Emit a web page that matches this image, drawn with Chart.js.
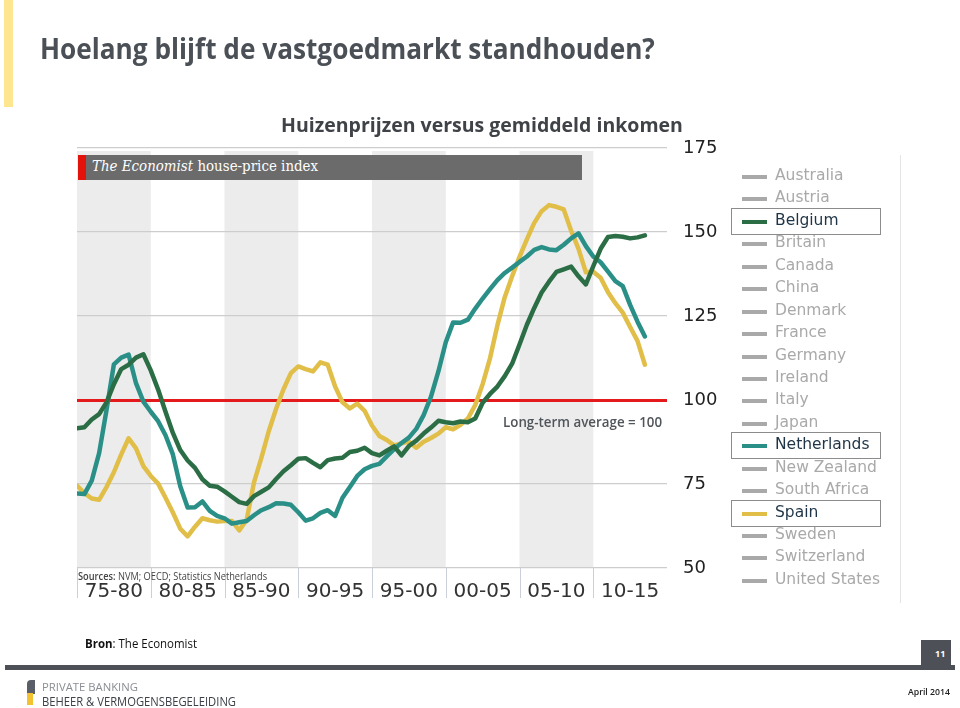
<!DOCTYPE html>
<html>
<head>
<meta charset="utf-8">
<script src="https://cdn.jsdelivr.net/npm/chart.js@4.4.1/dist/chart.umd.min.js"></script>
<style>
  body { margin: 0; width: 960px; height: 708px; position: relative; overflow: hidden; background: #fff; font-family: "Open Sans", sans-serif; }
  canvas { position: absolute; left: 0; top: 0; }
  .abs { position: absolute; white-space: nowrap; transform-origin: left top; }
  #accent { left: 4px; top: 0; width: 9px; height: 107px; background: #fde68f; }
  #slideTitle { left: 40px; top: 29px; font-size: 28px; font-weight: 700; color: #4b5056; }
  #chartTitle { left: 281px; top: 111px; font-size: 20px; font-weight: 700; color: #3f4348; }
  #header { left: 78px; top: 155px; width: 504px; height: 25px; background: #6b6b6b; }
  #header i { font-style: italic; }
  #headerRed { left: 78px; top: 155px; width: 8px; height: 25px; background: #e3120b; }
  #headerText { left: 92px; top: 157px; font-family: "DejaVu Serif", serif; font-size: 15px; color: #fff; }
  #avg { left: 503px; top: 412px; font-size: 14px; font-weight: 600; color: #50555a; }
  #sources { left: 78px; top: 569px; font-size: 10px; color: #444; }
  #frame { left: 900px; top: 155px; width: 1px; height: 448px; background: #e4e4e4; }
  .leg { position: absolute; left: 742px; height: 20px; }
  .leg span.m { position: absolute; left: 0; top: 9px; width: 25px; height: 4px; background: #aaa; }
  .leg span.t { position: absolute; left: 33px; top: 0; font-family: "DejaVu Sans", sans-serif; font-size: 15.5px; color: #a9a9a9; white-space: nowrap; }
  .box { position: absolute; left: 731px; width: 148px; height: 25px; border: 1px solid #8c8c8c; }
  #bron { left: 85px; top: 634px; font-size: 13px; color: #111; }
  #rule { left: 5px; top: 665px; width: 950px; height: 5px; background: #4d5057; }
  #pageBox { left: 921px; top: 640px; width: 30px; height: 28px; background: #4d5057; }
  #pageNo { left: 935px; top: 647px; font-size: 9px; font-weight: 700; color: #fff; }
  #logoA { left: 27px; top: 680px; width: 8px; height: 14px; background: #5a5e66; border-radius: 4px 0 0 0; }
  #logoB { left: 27px; top: 693px; width: 6px; height: 12px; background: #f2c230; }
  #pb1 { left: 42px; top: 679px; font-size: 11px; color: #8a8d92; }
  #pb2 { left: 42px; top: 693px; font-size: 12px; color: #3c4047; }
  #date { left: 908px; top: 685px; font-size: 9px; color: #222; font-weight: 600; }
</style>
</head>
<body>
<canvas id="chart" width="960" height="708"></canvas>

<div class="abs" id="accent"></div>
<div class="abs" id="slideTitle" data-fit="615">Hoelang blijft de vastgoedmarkt standhouden?</div>
<div class="abs" id="chartTitle" data-fit="402">Huizenprijzen versus gemiddeld inkomen</div>
<div class="abs" id="header"></div>
<div class="abs" id="headerRed"></div>
<div class="abs" id="headerText" data-fit="226"><i>The Economist</i> house-price index</div>
<div class="abs" id="avg" data-fit="159">Long-term average = 100</div>
<div class="abs" id="sources" data-fit="189"><b style="font-weight:600">Sources:</b> NVM; OECD; Statistics Netherlands</div>
<div class="abs" id="frame"></div>
<div id="legend"></div>
<div class="abs" id="bron" data-fit="112"><b>Bron</b>: The Economist</div>
<div class="abs" id="rule"></div>
<div class="abs" id="pageBox"></div>
<div class="abs" id="pageNo">11</div>
<div class="abs" id="logoA"></div>
<div class="abs" id="logoB"></div>
<div class="abs" id="pb1" data-fit="96">PRIVATE BANKING</div>
<div class="abs" id="pb2" data-fit="194">BEHEER &amp; VERMOGENSBEGELEIDING</div>
<div class="abs" id="date" data-fit="42">April 2014</div>

<script>
// half-year steps, 1975 .. 2013.5
const years = [
  1975, 1975.5, 1976, 1976.5, 1977, 1977.5, 1978, 1978.5, 1979, 1979.5,
  1980, 1980.5, 1981, 1981.5, 1982, 1982.5, 1983, 1983.5, 1984, 1984.5,
  1985, 1985.5, 1986, 1986.5, 1987, 1987.5, 1988, 1988.5, 1989, 1989.5,
  1990, 1990.5, 1991, 1991.5, 1992, 1992.5, 1993, 1993.5, 1994, 1994.5,
  1995, 1995.5, 1996, 1996.5, 1997, 1997.5, 1998, 1998.5, 1999, 1999.5,
  2000, 2000.5, 2001, 2001.5, 2002, 2002.5, 2003, 2003.5, 2004, 2004.5,
  2005, 2005.5, 2006, 2006.5, 2007, 2007.5, 2008, 2008.5, 2009, 2009.5,
  2010, 2010.5, 2011, 2011.5, 2012, 2012.5, 2013, 2013.5
];

const belgium = [
  91.6, 91.9, 94.2, 95.8, 99.3, 104.7, 109.2, 110.5, 112.6, 113.6,
  108.8, 103.1, 96.5, 90.2, 85.1, 82.0, 79.8, 76.4, 74.5, 74.2,
  72.8, 71.2, 69.6, 69.1, 71.4, 72.7, 74.0, 76.5, 78.8, 80.6,
  82.5, 82.7, 81.3, 80.0, 82.1, 82.6, 82.8, 84.5, 84.9, 85.8,
  84.2, 83.5, 84.9, 86.2, 83.5, 86.3, 87.9, 90.0, 91.8, 93.8,
  93.4, 93.1, 93.6, 93.4, 94.5, 99.2, 101.8, 104.0, 107.1, 110.8,
  116.5, 122.4, 127.4, 132.0, 135.2, 138.1, 138.9, 139.7, 136.8, 134.4,
  139.8, 145.0, 148.5, 148.8, 148.6, 148.1, 148.4, 149.0
];

const netherlands = [
  72.2, 72.0, 76.0, 84.2, 97.0, 110.6, 112.6, 113.5, 105.0, 99.5,
  96.5, 93.7, 89.5, 83.8, 74.3, 68.0, 68.1, 69.8, 67.0, 65.5,
  64.8, 63.2, 63.6, 64.0, 65.7, 67.2, 68.1, 69.3, 69.2, 68.8,
  66.6, 64.1, 64.8, 66.4, 67.2, 65.5, 70.9, 74.1, 77.4, 79.4,
  80.4, 81.0, 83.2, 85.4, 87.2, 88.8, 91.4, 95.5, 101.0, 108.5,
  117.2, 123.1, 123.0, 123.9, 127.2, 130.2, 133.0, 135.7, 137.8, 139.4,
  141.1, 142.7, 144.7, 145.5, 144.8, 144.6, 146.2, 148.1, 149.6, 145.8,
  142.7, 141.0, 138.2, 135.4, 133.9, 128.3, 123.3, 118.9
];

const spain = [
  74.5, 72.3, 70.7, 70.3, 74.1, 78.5, 83.8, 88.6, 85.6, 80.3,
  77.4, 75.1, 70.9, 66.5, 61.7, 59.4, 62.3, 64.8, 64.2, 63.8,
  64.0, 64.0, 61.2, 64.3, 75.5, 82.8, 90.7, 97.4, 103.2, 108.0,
  110.0, 109.2, 108.5, 111.2, 110.5, 104.0, 99.3, 97.5, 98.9, 96.8,
  92.4, 89.3, 88.1, 86.5, 87.1, 87.6, 85.8, 87.6, 88.7, 90.0,
  91.9, 91.3, 92.6, 94.5, 98.5, 104.7, 112.4, 122.2, 130.6, 136.8,
  142.6, 147.8, 152.7, 156.2, 158.0, 157.5, 156.7, 150.4, 145.0, 138.0,
  138.2, 136.4, 132.1, 128.8, 126.0, 121.7, 117.6, 110.5
];

const periodStarts = [1975, 1980, 1985, 1990, 1995, 2000, 2005, 2010];
const periodLabels = ['75-80', '80-85', '85-90', '90-95', '95-00', '00-05', '05-10', '10-15'];
const yTicks = [50, 75, 100, 125, 150, 175];

const countries = ['Australia', 'Austria', 'Belgium', 'Britain', 'Canada', 'China', 'Denmark',
  'France', 'Germany', 'Ireland', 'Italy', 'Japan', 'Netherlands', 'New Zealand',
  'South Africa', 'Spain', 'Sweden', 'Switzerland', 'United States'];
const highlight = { Belgium: '#2b6e46', Netherlands: '#2a9087', Spain: '#e0be48' };

// legend, drawn as html to the right of the axis
const legendEl = document.getElementById('legend');
countries.forEach((c, i) => {
  const top = 166 + i * 22.44;
  const row = document.createElement('div');
  row.className = 'leg';
  row.style.top = top + 'px';
  const col = highlight[c];
  row.innerHTML = '<span class="m" style="background:' + (col || '#a9a9a9') + '"></span>' +
    '<span class="t" style="color:' + (col ? '#1f3446' : '#a9a9a9') + '">' + c + '</span>';
  legendEl.appendChild(row);
  if (col) {
    const b = document.createElement('div');
    b.className = 'box';
    b.style.top = (top - 3) + 'px';
    legendEl.appendChild(b);
  }
});

function pairs(vals) {
  return years.map((y, i) => ({ x: y, y: vals[i] }));
}

const bands = {
  id: 'bands',
  beforeDraw(chart) {
    const { ctx, chartArea: a, scales: { x } } = chart;
    ctx.save();
    ctx.fillStyle = '#fff';
    ctx.fillRect(0, 0, chart.width, chart.height);
    ctx.fillStyle = '#ececec';
    periodStarts.forEach((s, i) => {
      if (i % 2 === 0) {
        const l = x.getPixelForValue(s);
        const r = x.getPixelForValue(s + 5);
        ctx.fillRect(l, a.top + 3, r - l, a.bottom - a.top - 3);
      }
    });
    ctx.strokeStyle = '#c9d0da';
    ctx.lineWidth = 1;
    periodStarts.forEach((s) => {
      const px = Math.round(x.getPixelForValue(s)) + 0.5;
      ctx.beginPath();
      ctx.moveTo(px, a.bottom);
      ctx.lineTo(px, a.bottom + 30);
      ctx.stroke();
    });
    ctx.restore();
  }
};

new Chart(document.getElementById('chart'), {
  type: 'line',
  data: {
    datasets: [
      { label: 'Belgium', data: pairs(belgium), borderColor: highlight.Belgium },
      { label: 'Netherlands', data: pairs(netherlands), borderColor: highlight.Netherlands },
      { label: 'Spain', data: pairs(spain), borderColor: highlight.Spain }
    ]
  },
  options: {
    responsive: false,
    animation: false,
    devicePixelRatio: 1,
    layout: { autoPadding: false, padding: { left: 77, top: 148, right: 233, bottom: 100 } },
    elements: {
      line: { borderWidth: 4.5, tension: 0, borderJoinStyle: 'round', borderCapStyle: 'round' },
      point: { radius: 0 }
    },
    plugins: { legend: { display: false }, title: { display: false }, tooltip: { enabled: false } },
    scales: {
      x: {
        type: 'linear',
        min: 1975,
        max: 2015,
        afterBuildTicks: (s) => { s.ticks = periodStarts.map((v) => ({ value: v + 2.5 })); },
        afterFit: (s) => { s.height = 40; },
        grid: { display: false },
        border: { display: false },
        ticks: {
          autoSkip: false,
          maxRotation: 0,
          padding: 4,
          color: '#333',
          font: { family: 'DejaVu Sans', size: 20 },
          callback: (v) => periodLabels[periodStarts.indexOf(v - 2.5)]
        }
      },
      y: {
        position: 'right',
        min: 50,
        max: 175,
        afterBuildTicks: (s) => { s.ticks = yTicks.map((v) => ({ value: v })); },
        afterFit: (s) => { s.width = 60; },
        border: { display: false },
        grid: {
          drawTicks: false,
          color: (c) => (c.tick && c.tick.value === 100 ? '#e3191c' : '#cdcdcd'),
          lineWidth: (c) => (c.tick && c.tick.value === 100 ? 3 : 1.2)
        },
        ticks: {
          padding: 16,
          color: '#222',
          font: { family: 'DejaVu Sans', size: 18 }
        }
      }
    }
  },
  plugins: [bands]
});

// squeeze text blocks to the widths seen on the slide
document.querySelectorAll('[data-fit]').forEach((el) => {
  const w = el.getBoundingClientRect().width;
  const target = parseFloat(el.dataset.fit);
  if (w > 0) el.style.transform = 'scaleX(' + (target / w).toFixed(3) + ')';
});
</script>
</body>
</html>
